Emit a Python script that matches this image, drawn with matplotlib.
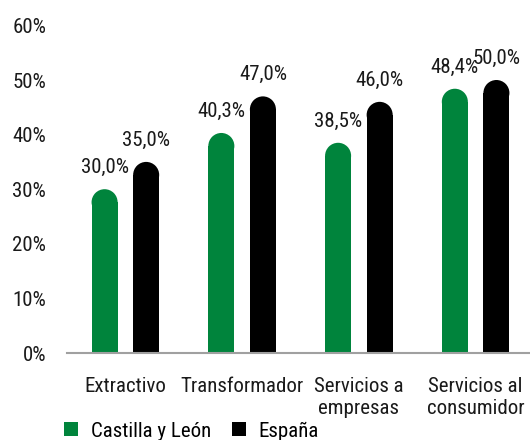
import matplotlib
matplotlib.use("Agg")
import matplotlib.pyplot as plt
from matplotlib.patches import Ellipse, Patch
from matplotlib import font_manager
import numpy as np

categories = ["Extractivo", "Transformador", "Servicios a\nempresas", "Servicios al\nconsumidor"]
castilla = [30.0, 40.3, 38.5, 48.4]
espana = [35.0, 47.0, 46.0, 50.0]
series_names = ["Castilla y León", "España"]
yticks = [0, 10, 20, 30, 40, 50, 60]

names = {f.name for f in font_manager.fontManager.ttflist}
prefs = ["Nimbus Sans Narrow", "Liberation Sans Narrow", "Arial Narrow", "Roboto Condensed",
         "Archivo Narrow", "Liberation Sans", "DejaVu Sans"]
fam = [f for f in prefs if f in names]
plt.rcParams['font.family'] = fam

GREEN = "#00843c"
BLACK = "#000000"
TXT = "#1a1a1a"
FS = 15

W, H = 530, 440
fig = plt.figure(figsize=(W / 100, H / 100), dpi=100)
left, right = 67 / W, 534 / W
bottom, top = (H - 353) / H, (H - 25.4) / H
ax = fig.add_axes([left, bottom, right - left, top - bottom])

ymax = 60
ax.set_xlim(-0.5, len(categories) - 0.5)
ax.set_ylim(0, ymax)

bw = 0.223
off = 0.178
x = np.arange(len(categories))

px_per_x = (right - left) * W / len(categories)
px_per_y = (top - bottom) * H / ymax
r_px = bw * px_per_x / 2
r_y = r_px / px_per_y

def rounded_bars(xs, vals, color, label):
    ax.bar(xs, [v - r_y for v in vals], width=bw, color=color, linewidth=0, label=label)
    for xi, v in zip(xs, vals):
        ax.add_patch(Ellipse((xi, v - r_y), bw, 2 * r_y, facecolor=color, linewidth=0))
        ax.annotate(f"{v:.1f}%".replace(".", ","), (xi, v), xytext=(0, 15.5),
                    textcoords="offset points", ha="center", va="center",
                    fontsize=FS, color=TXT)

rounded_bars(x - off, castilla, GREEN, series_names[0])
rounded_bars(x + off, espana, BLACK, series_names[1])

for s in ["top", "right", "left"]:
    ax.spines[s].set_visible(False)
ax.spines["bottom"].set_color("#a0a0a0")
ax.spines["bottom"].set_linewidth(1.5)

ax.set_yticks(yticks)
ax.set_yticklabels([f"{t}%" for t in yticks], fontsize=FS, color=TXT)
ax.set_xticks(x)
ax.set_xticklabels(categories, fontsize=FS, color=TXT, linespacing=1.25)
ax.tick_params(axis="y", length=0, pad=15)
ax.tick_params(axis="x", length=0, pad=17)

handles = [Patch(facecolor=GREEN, label=series_names[0]), Patch(facecolor=BLACK, label=series_names[1])]
fig.legend(handles=handles, loc="center left", bbox_to_anchor=(64 / W, (H - 431) / H),
           ncol=2, frameon=False, fontsize=FS, handlelength=0.68, handleheight=0.68,
           handletextpad=0.6, columnspacing=1.0, borderaxespad=0, borderpad=0)

fig.savefig("out.png", dpi=100)
